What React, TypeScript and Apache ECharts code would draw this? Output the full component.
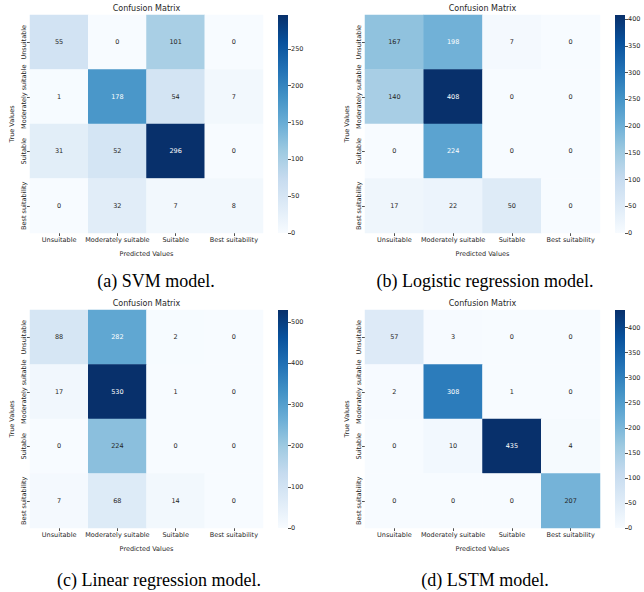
import React, { useEffect, useRef } from "react";
import * as echarts from "echarts";

const categories = ["Unsuitable", "Moderately suitable", "Suitable", "Best suitability"];

// rows = true values, columns = predicted values
const svmValues = [
  [55, 0, 101, 0],
  [1, 178, 54, 7],
  [31, 52, 296, 0],
  [0, 32, 7, 8],
];
const logisticValues = [
  [167, 198, 7, 0],
  [140, 408, 0, 0],
  [0, 224, 0, 0],
  [17, 22, 50, 0],
];
const linearValues = [
  [88, 282, 2, 0],
  [17, 530, 1, 0],
  [0, 224, 0, 0],
  [7, 68, 14, 0],
];
const lstmValues = [
  [57, 3, 0, 0],
  [2, 308, 1, 0],
  [0, 10, 435, 4],
  [0, 0, 0, 207],
];

const svmTicks = [0, 50, 100, 150, 200, 250];
const logisticTicks = [0, 50, 100, 150, 200, 250, 300, 350, 400];
const linearTicks = [0, 100, 200, 300, 400, 500];
const lstmTicks = [0, 50, 100, 150, 200, 250, 300, 350, 400];

const captions = [
  "(a) SVM model.",
  "(b) Logistic regression model.",
  "(c) Linear regression model.",
  "(d) LSTM model.",
];
const titleText = "Confusion Matrix";
const xName = "Predicted Values";
const yName = "True Values";

const BLUES = ["#f7fbff", "#deebf7", "#c6dbef", "#9ecae1", "#6baed6", "#4292c6", "#2171b5", "#08519c", "#08306b"];

function hexToRgb(h: string) {
  return [parseInt(h.slice(1, 3), 16), parseInt(h.slice(3, 5), 16), parseInt(h.slice(5, 7), 16)];
}
function bluesAt(t: number) {
  const tt = Math.max(0, Math.min(1, t)) * (BLUES.length - 1);
  const i = Math.min(BLUES.length - 2, Math.floor(tt));
  const f = tt - i;
  const a = hexToRgb(BLUES[i]);
  const b = hexToRgb(BLUES[i + 1]);
  return a.map((v, k) => v + (b[k] - v) * f);
}
function luminance(rgb: number[]) {
  const lin = rgb.map((c) => {
    const s = c / 255;
    return s <= 0.03928 ? s / 12.92 : Math.pow((s + 0.055) / 1.055, 2.4);
  });
  return 0.2126 * lin[0] + 0.7152 * lin[1] + 0.0722 * lin[2];
}

const FONT = "DejaVu Sans";
const TXT = "#262626";

const panels = [
  { values: svmValues, ticks: svmTicks, left: 30, top: 15, w: 233, h: 218, cbLeft: 278, capX: 156, capY: 281 },
  { values: logisticValues, ticks: logisticTicks, left: 365, top: 15, w: 235, h: 218, cbLeft: 615, capX: 485, capY: 281 },
  { values: linearValues, ticks: linearTicks, left: 30, top: 310, w: 233, h: 218, cbLeft: 278, capX: 159, capY: 580 },
  { values: lstmValues, ticks: lstmTicks, left: 365, top: 310, w: 235, h: 218, cbLeft: 615, capX: 485, capY: 580 },
];

function buildOption() {
  const grid: any[] = [];
  const xAxis: any[] = [];
  const yAxis: any[] = [];
  const series: any[] = [];
  const visualMap: any[] = [];
  const graphic: any[] = [];

  panels.forEach((p, i) => {
    const vmax = Math.max(...p.values.flat());
    const hg = i * 2;
    const cg = i * 2 + 1;
    grid.push({ left: p.left, top: p.top, width: p.w, height: p.h });
    grid.push({ left: p.cbLeft, top: p.top, width: 10, height: p.h });

    xAxis.push({
      type: "category",
      gridIndex: hg,
      data: categories,
      axisLine: { show: false },
      axisTick: { show: true, alignWithLabel: true, interval: 0, length: 3, lineStyle: { color: TXT, width: 0.8 } },
      axisLabel: { interval: 0, fontFamily: FONT, fontSize: 6.5, color: TXT, margin: 3 },
      splitLine: { show: false },
      name: xName,
      nameLocation: "middle",
      nameGap: 17,
      nameTextStyle: { fontFamily: FONT, fontSize: 6.5, color: TXT },
    });
    yAxis.push({
      type: "category",
      gridIndex: hg,
      data: categories,
      inverse: true,
      axisLine: { show: false },
      axisTick: { show: true, alignWithLabel: true, interval: 0, length: 3, lineStyle: { color: TXT, width: 0.8 } },
      axisLabel: { interval: 0, fontFamily: FONT, fontSize: 6.5, color: TXT, margin: 3, rotate: 90 },
      splitLine: { show: false },
      name: yName,
      nameLocation: "middle",
      nameGap: 15,
      nameRotate: 90,
      nameTextStyle: { fontFamily: FONT, fontSize: 6.5, color: TXT },
    });

    xAxis.push({ type: "category", gridIndex: cg, data: [""], show: false });
    yAxis.push({
      type: "value",
      gridIndex: cg,
      min: 0,
      max: vmax,
      position: "right",
      axisLine: { show: false },
      splitLine: { show: false },
      axisTick: { show: true, length: 3, customValues: p.ticks, lineStyle: { color: TXT, width: 0.8 } },
      axisLabel: { fontFamily: FONT, fontSize: 6.5, color: TXT, margin: 3, customValues: p.ticks },
    });

    const data: any[] = [];
    p.values.forEach((row, r) => {
      row.forEach((v, c) => {
        const lum = luminance(bluesAt(v / vmax));
        data.push({ value: [c, r, v], label: { color: lum > 0.408 ? TXT : "#ffffff" } });
      });
    });

    series.push({
      type: "heatmap",
      xAxisIndex: hg,
      yAxisIndex: hg,
      data,
      label: { show: true, fontFamily: FONT, fontSize: 6.5, formatter: (pp: any) => String(pp.value[2]) },
      itemStyle: { borderWidth: 0 },
      emphasis: { disabled: true },
    });
    visualMap.push({
      show: false,
      type: "continuous",
      seriesIndex: series.length - 1,
      min: 0,
      max: vmax,
      dimension: 2,
      inRange: { color: BLUES },
    });

    series.push({
      type: "bar",
      xAxisIndex: cg,
      yAxisIndex: cg,
      data: [vmax],
      barWidth: "100%",
      silent: true,
      itemStyle: {
        color: new echarts.graphic.LinearGradient(
          0, 1, 0, 0,
          BLUES.map((c, k) => ({ offset: k / (BLUES.length - 1), color: c }))
        ),
      },
    });

    graphic.push({
      type: "text",
      x: p.left + p.w / 2,
      y: p.top - 7,
      style: { text: titleText, align: "center", verticalAlign: "middle", font: `8px "${FONT}"`, fill: TXT },
    });
    graphic.push({
      type: "text",
      x: p.capX,
      y: p.capY,
      style: { text: captions[i], align: "center", verticalAlign: "middle", font: `18px "Liberation Serif"`, fill: "#000000" },
    });
  });

  return {
    animation: false,
    backgroundColor: "#ffffff",
    grid,
    xAxis,
    yAxis,
    visualMap,
    series,
    graphic,
  };
}

export default function App() {
  const ref = useRef<HTMLDivElement>(null);
  useEffect(() => {
    if (!ref.current) return;
    const chart = echarts.init(ref.current, null, { renderer: "svg" });
    chart.setOption(buildOption() as any);
    return () => chart.dispose();
  }, []);
  return (
    <div
      ref={ref}
      style={{ position: "fixed", left: 0, top: 0, width: 644, height: 592, background: "#ffffff" }}
    />
  );
}
